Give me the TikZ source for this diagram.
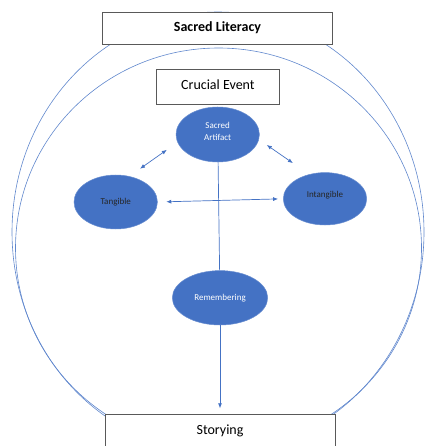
\documentclass[tikz,border=0pt]{standalone}
\usepackage{fontspec}
\setmainfont{Carlito}
\usetikzlibrary{shapes.geometric,arrows.meta}

\definecolor{ringblue}{HTML}{4472C4}
\definecolor{discblue}{HTML}{4472C4}
\definecolor{boxgray}{HTML}{595959}

\tikzset{
  ring/.style={draw=ringblue!85!white, line width=0.6pt},
  titlebox/.style={draw=boxgray, fill=white, line width=0.9pt, inner sep=0pt,
    text height=9pt, text depth=3pt, font=\fontsize{14}{16}\selectfont},
  disc/.style={ellipse, draw=discblue!80!white, line width=0.5pt, fill=discblue,
    inner sep=0pt, align=center, font=\fontsize{9}{12}\selectfont},
  link/.style={draw=ringblue, line width=0.7pt, >={Latex[length=5pt,width=4pt]}}
}

\begin{document}
\begin{tikzpicture}[x=1pt, y=-1pt]
    \useasboundingbox (0,0) rectangle (426,446);
    \clip (0,0) rectangle (426,446);

    %rings
    \draw[ring] (218,232) ellipse [x radius=206, y radius=220];
    \draw[ring] (218.5,248) ellipse [x radius=203, y radius=200];

    %boxes
    \node[titlebox, font=\bfseries\fontsize{14}{16}\selectfont, minimum width=230.4, minimum height=32] (lit) at (217.5,28.3) {Sacred Literacy};
    \node[titlebox, minimum width=122.3, minimum height=35.3] (event) at (217.9,86.7) {Crucial Event};
    \node[titlebox, anchor=north, text height=5pt, text depth=5pt, minimum width=230, minimum height=40] (story) at (220,414.3) {Storying};

    %discs
    \node[disc, text=white, text depth=6pt, minimum width=83.4, minimum height=55] (art) at (217.7,134.5) {Sacred\\Artifact};
    \node[disc, text=black!85, minimum width=83.4, minimum height=54] (tang) at (115.7,202) {Tangible};
    \node[disc, text=black!85, text depth=8pt, minimum width=83.4, minimum height=52.4] (intang) at (325,198.8) {Intangible};
    \node[disc, text=white, minimum width=95.4, minimum height=54.4] (rem) at (220,297.8) {Remembering};

    %links
    \draw[link, <->, shorten <=13pt, shorten >=13pt] (tang.62.5) -- (art.191.4);
    \draw[link, <->, shorten <=9.5pt, shorten >=19.7pt] (art.353.1) -- (intang.123.9);
    \draw[link, <->, shorten <=8.6pt, shorten >=5pt] (tang.east) -- (intang.west);
    \draw[link] (art) -- (rem);
    \draw[link, ->, shorten >=6pt] (rem) -- (story);

\end{tikzpicture}
\end{document}
